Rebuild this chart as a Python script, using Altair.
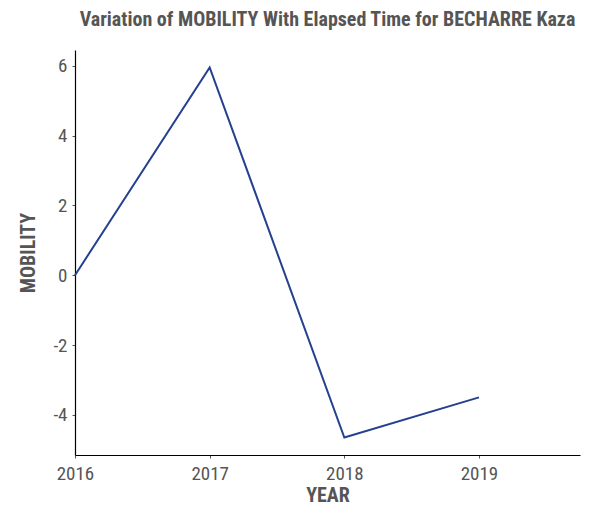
import altair as alt
import pandas as pd

years = [2016, 2017, 2018, 2019]
mobility = [0.0, 5.95, -4.65, -3.5]

df = pd.DataFrame({"YEAR": years, "MOBILITY": mobility})

FONT = "Roboto Condensed, Liberation Sans Narrow, DejaVu Sans Condensed, sans-serif"
GRAY = "#555555"

chart = alt.Chart(df).mark_line(color="#24408e", strokeWidth=2).encode(
    x=alt.X("YEAR:Q",
            scale=alt.Scale(domain=[2016, 2019.75], nice=False, zero=False),
            axis=alt.Axis(values=years, format="d", title="YEAR", grid=False,
                          labelFlush=False,
                          domainColor="black", tickColor=GRAY, tickSize=3,
                          labelPadding=6, titlePadding=2)),
    y=alt.Y("MOBILITY:Q",
            scale=alt.Scale(domain=[-5.15, 6.45], nice=False, zero=False),
            axis=alt.Axis(values=[-4, -2, 0, 2, 4, 6], title="MOBILITY", grid=False,
                          labelFlush=False,
                          labelExpr="replace(datum.label, '\u2212', '-')",
                          domainColor="black", tickColor=GRAY, tickSize=3,
                          labelPadding=5, titlePadding=14)),
).properties(
    width=505, height=405,
    padding={"left": 10, "top": 2, "right": 5, "bottom": 5},
    title=alt.TitleParams("Variation of MOBILITY With Elapsed Time for BECHARRE Kaza",
                          font=FONT, fontSize=20, fontWeight="bold", color=GRAY,
                          anchor="middle", offset=20),
).configure_axis(
    labelFont=FONT, labelFontSize=19, labelColor=GRAY,
    titleFont=FONT, titleFontSize=20, titleFontWeight="bold", titleColor=GRAY,
    domainWidth=1.2,
).configure_view(stroke=None)

chart.save("out.html", embed_options={"renderer": "svg", "actions": False})
